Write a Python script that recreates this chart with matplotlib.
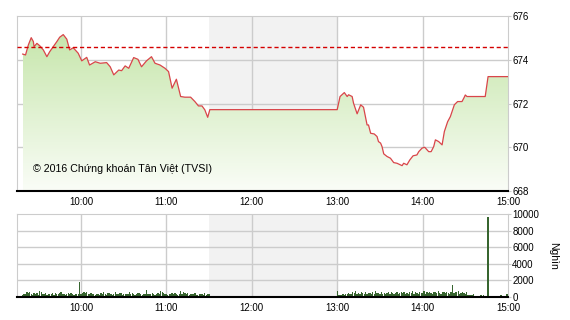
import numpy as np
import matplotlib
matplotlib.use("Agg")
import matplotlib.pyplot as plt
from matplotlib.colors import LinearSegmentedColormap

plt.rcParams['font.family'] = ['Liberation Sans', 'DejaVu Sans']

# minutes after 9:00 and index value
price_min = [19, 21, 23, 25, 26.5, 27, 29, 31, 33.5, 36,
             38, 40.5, 43, 45, 47.5, 50, 52, 54.5, 58, 60.5,
             64, 66, 70, 73.5, 78, 80.5, 83, 86.5, 88.5, 91,
             93.5, 97, 100, 102.5, 106, 109.5, 112, 115.5, 119, 121.5,
             124, 127, 130, 133, 137, 140, 142.5, 145, 147, 149,
             150.5, 240, 242, 245, 247, 248, 250.5, 251.5, 254, 256.5,
             258.5, 261, 262, 263.5, 266, 268, 269, 270.5, 271.5, 272.7,
             275, 277.4, 279.7, 282, 285.6, 286.7, 289, 291, 293.3, 296,
             297.3, 299.6, 301.5, 304.3, 306, 307.8, 309, 311.3, 313.7, 315.3,
             317.6, 319.5, 322.3, 324.6, 327.7, 329.3, 330, 331.2, 344, 346,
             360]
price_val = [674.26, 674.22, 674.68, 675.01, 674.83, 674.6, 674.75, 674.64, 674.45, 674.14,
             674.37, 674.6, 674.83, 675.03, 675.15, 674.94, 674.45, 674.55, 674.3, 673.95,
             674.11, 673.76, 673.91, 673.84, 673.87, 673.68, 673.31, 673.53, 673.5, 673.72,
             673.61, 674.1, 674.02, 673.68, 673.95, 674.14, 673.84, 673.76, 673.61, 673.46,
             672.7, 673.11, 672.32, 672.29, 672.29, 672.09, 671.89, 671.89, 671.71, 671.37,
             671.72, 671.72, 672.32, 672.5, 672.32, 672.4, 672.32, 672.01, 671.53, 671.94,
             671.83, 671.02, 671.02, 670.64, 670.61, 670.49, 670.26, 670.19, 670.03, 669.7,
             669.58, 669.5, 669.3, 669.27, 669.16, 669.27, 669.2, 669.42, 669.61, 669.65,
             669.8, 669.96, 670.0, 669.8, 669.8, 670.03, 670.34, 670.26, 670.11, 670.72,
             671.17, 671.4, 671.94, 672.09, 672.09, 672.29, 672.39, 672.32, 672.32, 673.23,
             673.23]
ref_val = 674.57

# volume (Nghìn) per minute
vol_am_start = 19
vol_am = [250, 400, 300, 550, 450, 600, 300, 200, 500, 350, 450, 250,
          700, 550, 400, 300, 450, 250, 350, 400, 300, 500, 250, 450,
          350, 300, 450, 550, 300, 400, 250, 350, 500, 300, 450, 400,
          250, 350, 400, 300, 1750, 350, 500, 550, 450, 550, 300, 400,
          450, 350, 300, 250, 400, 350, 200, 450, 300, 600, 350, 250,
          450, 500, 300, 250, 400, 550, 300, 350, 450, 500, 250, 300,
          400, 300, 350, 550, 300, 450, 400, 250, 350, 500, 450, 300,
          250, 400, 300, 900, 350, 400, 300, 450, 350, 250, 400, 500,
          300, 750, 550, 450, 400, 300, 250, 350, 400, 500, 300, 450,
          350, 250, 400, 700, 300, 550, 450, 300, 500, 250, 350, 400,
          300, 450, 250, 200, 350, 400, 300, 200, 450, 250, 300, 350]
vol_pm_start = 240
vol_pm = [700, 200, 250, 200, 300, 250, 400, 350, 500, 300, 400, 550,
          450, 700, 400, 500, 350, 600, 450, 400, 550, 300, 450, 500,
          400, 600, 350, 700, 450, 500, 400, 550, 300, 450, 350, 500,
          600, 400, 550, 450, 350, 500, 650, 400, 500, 600, 450, 550,
          400, 500, 350, 600, 450, 700, 400, 550, 500, 350, 600, 450,
          500, 700, 400, 550, 450, 650, 500, 400, 600, 550, 450, 700,
          500, 400, 650, 550, 450, 600, 500, 400, 550, 1500, 450, 600,
          550, 700, 400, 500, 600, 450, 350, 550, 200, 200, 250, 200,
          300]
vol_late_min = [341, 343, 346, 348, 352, 355, 359, 360]
vol_late = [250, 200, 9700, 150, 150, 200, 300, 300]

hour_ticks = [60, 120, 180, 240, 300, 360]
hour_labels = ['10:00', '11:00', '12:00', '13:00', '14:00', '15:00']
price_ticks = [668, 670, 672, 674, 676]
vol_ticks = [0, 2000, 4000, 6000, 8000, 10000]

x0, x1 = 15, 360
grid_c = '#cccccc'
fs = 7

fig = plt.figure(figsize=(5.7, 3.2), dpi=100)
ax = fig.add_axes([0.0298, 0.403, 0.8614, 0.547])
axv = fig.add_axes([0.0298, 0.072, 0.8614, 0.259])


def style(a, ymin, ymax, yt):
    a.set_xlim(x0, x1)
    a.set_ylim(ymin, ymax)
    a.axvspan(150, 240, color='#f2f2f2', zorder=0, lw=0)
    for t in hour_ticks[:-1]:
        a.axvline(t, color=grid_c, lw=1, zorder=1)
    for v in yt[1:-1]:
        a.axhline(v, color=grid_c, lw=1, zorder=1)
    a.set_xticks(hour_ticks)
    a.set_xticklabels(hour_labels, fontsize=fs)
    a.set_yticks(yt)
    a.yaxis.tick_right()
    a.tick_params(axis='y', labelsize=fs, length=2, color=grid_c, pad=1)
    a.tick_params(axis='x', length=0, pad=4)
    for s in ['top', 'left', 'right']:
        a.spines[s].set_color(grid_c)
    a.spines['bottom'].set_color('black')
    a.spines['bottom'].set_linewidth(1.5)
    a.spines['bottom'].set_zorder(5)


style(ax, 668, 676, price_ticks)
style(axv, 0, 10000, vol_ticks)

# gradient area under the price line
px = np.array(price_min)
py = np.array(price_val)
poly = ax.fill_between(px, py, 668, color='none', lw=0)
cmap = LinearSegmentedColormap.from_list('g', ['#fafdf7', '#c6e6ab'])
grad = np.linspace(0, 1, 256).reshape(-1, 1)
img = ax.imshow(grad, cmap=cmap, aspect='auto', origin='lower',
                extent=[px[0], px[-1], 668, 675.3], zorder=2)
img.set_clip_path(poly.get_paths()[0], transform=ax.transData)
ax.plot(px, py, color='#d9454a', lw=0.9, zorder=3)
ax.axhline(ref_val, color='#d40000', lw=1.0, ls=(0, (3, 2)), zorder=4)
ax.set_xlim(x0, x1)
ax.set_ylim(668, 676)

ax.text(0.033, 0.125, '© 2016 Chứng khoán Tân Việt (TVSI)', transform=ax.transAxes,
        fontsize=7.7, va='center', ha='left', zorder=6)

# volume bars
bar_c = '#37652f'
axv.bar(np.arange(len(vol_am)) + vol_am_start, vol_am, width=0.9, color=bar_c, zorder=3)
axv.bar(np.arange(len(vol_pm)) + vol_pm_start, vol_pm, width=0.9, color=bar_c, zorder=3)
axv.bar(vol_late_min, vol_late, width=0.9, color=bar_c, zorder=3)
axv.set_ylabel('Nghìn', rotation=-90, fontsize=fs + 0.5, labelpad=14)
axv.yaxis.set_label_position('right')

fig.savefig('out.png', dpi=100)
